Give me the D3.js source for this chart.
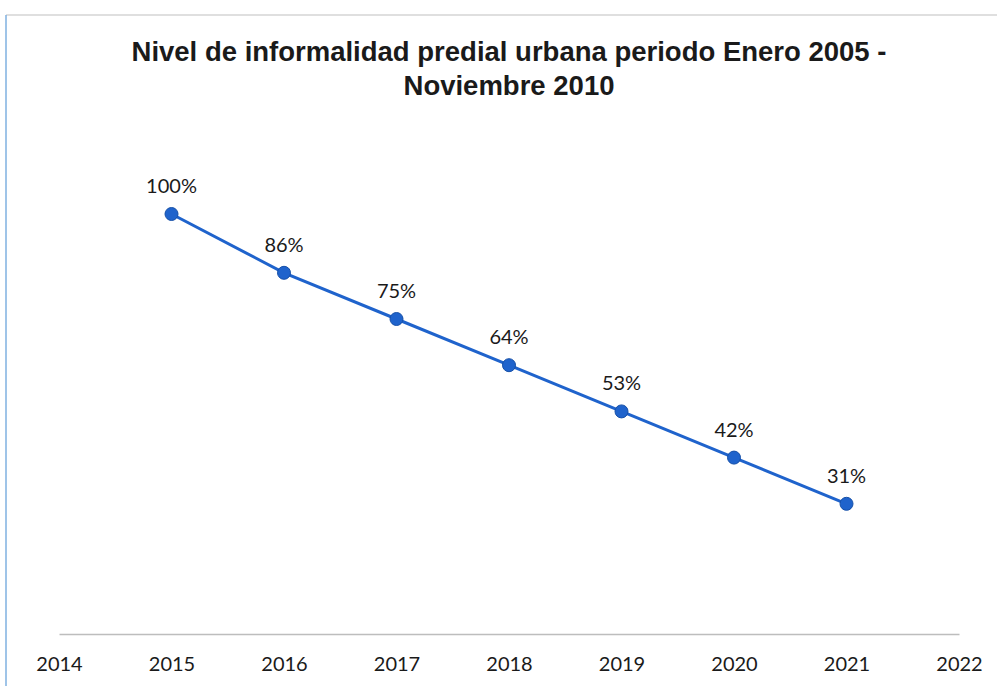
<!DOCTYPE html>
<html>
<head>
<meta charset="utf-8">
<script src="https://cdn.jsdelivr.net/npm/d3@7"></script>
<style>
  body { margin: 0; background: #fff; }
  svg { display: block; }
</style>
</head>
<body>
<div id="chart"></div>
<script>
var years = [2015, 2016, 2017, 2018, 2019, 2020, 2021];
var values = [100, 86, 75, 64, 53, 42, 31];
var tickYears = [2014, 2015, 2016, 2017, 2018, 2019, 2020, 2021, 2022];

var svgWidth = 997;
var svgHeight = 686;

var svg = d3.select("#chart")
  .append("svg")
  .attr("width", svgWidth)
  .attr("height", svgHeight);

// chart frame (scan shows grey top edge and blue left edge)
svg.append("line")
  .attr("x1", 6).attr("x2", 997).attr("y1", 15).attr("y2", 15)
  .attr("stroke", "#d4d4d4").attr("stroke-width", 1.5);
svg.append("line")
  .attr("x1", 6).attr("x2", 6).attr("y1", 15).attr("y2", 686)
  .attr("stroke", "#7fb0e0").attr("stroke-width", 1.5);

// title
var title = svg.append("text")
  .attr("text-anchor", "middle")
  .style("font-family", "'Liberation Sans', Arial, sans-serif")
  .style("font-weight", "bold")
  .style("font-size", "27.5px")
  .attr("fill", "#1a1a1a");
title.append("tspan").attr("x", 509).attr("y", 61).text("Nivel de informalidad predial urbana periodo Enero 2005 -");
title.append("tspan").attr("x", 509).attr("y", 95).text("Noviembre 2010");

var x = d3.scaleLinear()
  .domain([2014, 2022])
  .range([59, 959]);

var y = d3.scaleLinear()
  .domain([0, 120])
  .range([634, 130]);

// x axis
var xAxis = d3.axisBottom(x)
  .tickValues(tickYears)
  .tickFormat(d3.format("d"))
  .tickSize(0)
  .tickPadding(23);

var gx = svg.append("g")
  .attr("transform", "translate(0," + y(0) + ")")
  .call(xAxis);
gx.select(".domain")
  .attr("stroke", "#bdbdbd")
  .attr("stroke-width", 1.5);
gx.selectAll("text")
  .style("font-family", "Lato, 'Open Sans', sans-serif")
  .style("font-size", "20px")
  .attr("fill", "#1a1a1a");

// line
var line = d3.line()
  .x(function(d, i) { return x(years[i]); })
  .y(function(d) { return y(d); });

svg.append("path")
  .datum(values)
  .attr("d", line)
  .attr("fill", "none")
  .attr("stroke", "#1f63cc")
  .attr("stroke-width", 3);

// points
svg.selectAll("circle.pt")
  .data(values)
  .enter()
  .append("circle")
  .attr("class", "pt")
  .attr("cx", function(d, i) { return x(years[i]); })
  .attr("cy", function(d) { return y(d); })
  .attr("r", 6.5)
  .attr("fill", "#1f63cc")
  .attr("stroke", "#1650a8")
  .attr("stroke-width", 1);

// labels
svg.selectAll("text.lbl")
  .data(values)
  .enter()
  .append("text")
  .attr("class", "lbl")
  .attr("x", function(d, i) { return x(years[i]); })
  .attr("y", function(d) { return y(d) - 21; })
  .attr("text-anchor", "middle")
  .style("font-family", "Lato, 'Open Sans', sans-serif")
  .style("font-size", "20px")
  .attr("fill", "#1a1a1a")
  .text(function(d) { return d + "%"; });
</script>
</body>
</html>
